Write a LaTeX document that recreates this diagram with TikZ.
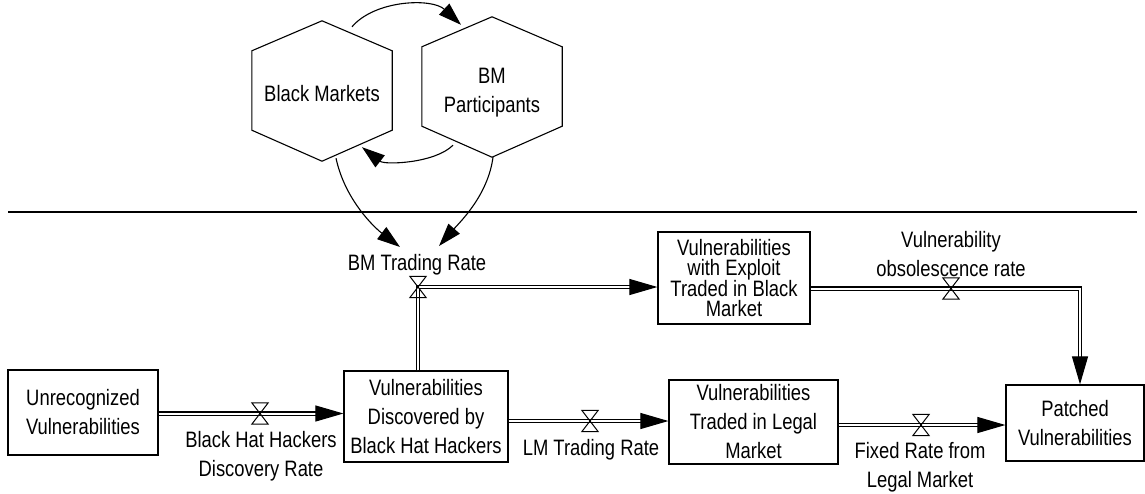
\documentclass[tikz,border=0pt]{standalone}
\usepackage{fontspec}
\setmainfont{Liberation Sans}[FakeStretch=0.825]
\usetikzlibrary{arrows.meta,calc}

% hexagonal outline drawn on the border of a square node
\newcommand\hexoutline[1]{%
  \draw[hexline] (#1.north) -- ([yshift=-30pt]#1.north east)
    -- ([yshift=31pt]#1.south east) -- (#1.south)
    -- ([yshift=31pt]#1.south west) -- ([yshift=-30pt]#1.north west) -- cycle;}
% hourglass-shaped flow valve drawn on a valve node
\newcommand\valveglyph[1]{%
  \draw[line width=1pt] (#1.north west) -- (#1.north east)
    -- (#1.south west) -- (#1.south east) -- cycle;}
% tightly leaded text for the four-line stock
\newcommand\tightlines{\fontsize{22.3}{20.5}\selectfont\lineskiplimit=-20pt\relax}

\begin{document}
\begin{tikzpicture}[x=1pt,y=-1pt,
  txt/.style={font=\fontsize{22.3}{29}\selectfont, align=center, inner sep=0pt},
  stock/.style={draw, line width=1.2pt, txt},
  hexnode/.style={minimum width=140pt, minimum height=140pt, inner sep=0pt},
  hexline/.style={line width=1.1pt},
  valvebox/.style={minimum width=16pt, minimum height=21pt, inner sep=0pt},
  pipe/.style={double, double distance=2pt, line width=1.1pt,
    -{Triangle[length=28pt,width=16pt]}},
  infl/.style={line width=1.1pt, -{Triangle[length=23pt,width=15pt]}}]
\useasboundingbox (0,0) rectangle (1145,493);

% ---- upper part: black market feedback loop
\node[hexnode] (bm)  at (322,91) {};
\node[hexnode] (bmp) at (492,87) {};
\hexoutline{bm}
\hexoutline{bmp}
\node[txt] (bmtext)  at (322,94) {Black Markets};
\node[txt] (bmptext) at (492,93) {BM\\Participants};

% separator
\coordinate (sepL) at (8,212);
\coordinate (sepR) at (1137,212);
\draw[line width=2.3pt] (sepL) -- (sepR);

% ---- stocks
\node[stock, minimum width=150pt, minimum height=85pt] (unrec) at (83,412.5)
  {Unrecognized\\Vulnerabilities};
\node[stock, minimum width=164pt, minimum height=91pt] (disc) at (426,416.5)
  {Vulnerabilities\\Discovered by\\Black Hat Hackers};
\node[stock, minimum width=169pt, minimum height=84pt] (lm) at (753.5,422)
  {Vulnerabilities\\Traded in Legal\\Market};
\node[stock, minimum width=152pt, minimum height=92pt, font=\tightlines] (bmx) at (734,278)
  {Vulnerabilities\\with Exploit\\Traded in Black\\Market};
\node[stock, minimum width=138pt, minimum height=76pt] (patched) at (1075,423)
  {Patched\\Vulnerabilities};

% ---- valves
\node[valvebox] (vbh) at (260,413.5) {};
\node[valvebox] (vlm) at (590,421) {};
\node[valvebox] (vfx) at (921,425) {};
\node[valvebox] (vbm) at (418,287) {};
\node[valvebox] (vob) at (951,288.5) {};
\coordinate (cob) at (1080,288.5);

% ---- flows
\draw[pipe] (unrec.east |- vbh.center) -- (disc.west |- vbh.center);
\draw[pipe] (disc.east |- vlm.center) -- (lm.west |- vlm.center);
\draw[pipe] (lm.east |- vfx.center) -- (patched.west |- vfx.center);
\draw[pipe] (disc.north -| vbm.center) -- (vbm.center) -- (bmx.west |- vbm.center);
\draw[pipe] (bmx.east |- vob.center) -- (cob) -- (cob |- patched.north);

\valveglyph{vbh}
\valveglyph{vlm}
\valveglyph{vfx}
\valveglyph{vbm}
\valveglyph{vob}

% ---- rate labels
\node[txt] (lbh) at (261,456) {Black Hat Hackers\\Discovery Rate};
\node[txt] (llm) at (591,450) {LM Trading Rate};
\node[txt] (lfx) at (920,467.5) {Fixed Rate from\\Legal Market};
\node[txt] (lbm) at (417,265) {BM Trading Rate};
\node[txt] (lob) at (951,254) {Vulnerability\\obsolescence rate};

% ---- influences
\coordinate (a1s) at ([xshift=30pt,yshift=-6pt]bm.north);
\coordinate (a1e) at ([xshift=-31pt,yshift=-8pt]bmp.north);
\draw[infl] (a1s) .. controls ($(a1s)+(23,-27)$) and ($(a1e)+(-29,-27)$) .. (a1e);

\coordinate (a2s) at ([xshift=-39pt,yshift=12pt]bmp.south);
\coordinate (a2e) at ([xshift=40pt,yshift=14pt]bm.south);
\draw[infl] (a2s) .. controls ($(a2s)+(-18,18)$) and ($(a2e)+(23,18)$) .. (a2e);

\coordinate (a3s) at ([xshift=14pt,yshift=3pt]bm.south);
\coordinate (a3e) at (400,247);
\draw[infl] (a3s) .. controls ($(a3s)+(9,42)$) and ($(a3e)+(-25,-19)$) .. (a3e);

\coordinate (a4s) at ([xshift=1pt]bmp.south);
\coordinate (a4e) at (439,246);
\draw[infl] (a4s) .. controls ($(a4s)+(-5,38)$) and ($(a4e)+(21,-24)$) .. (a4e);
\end{tikzpicture}
\end{document}
